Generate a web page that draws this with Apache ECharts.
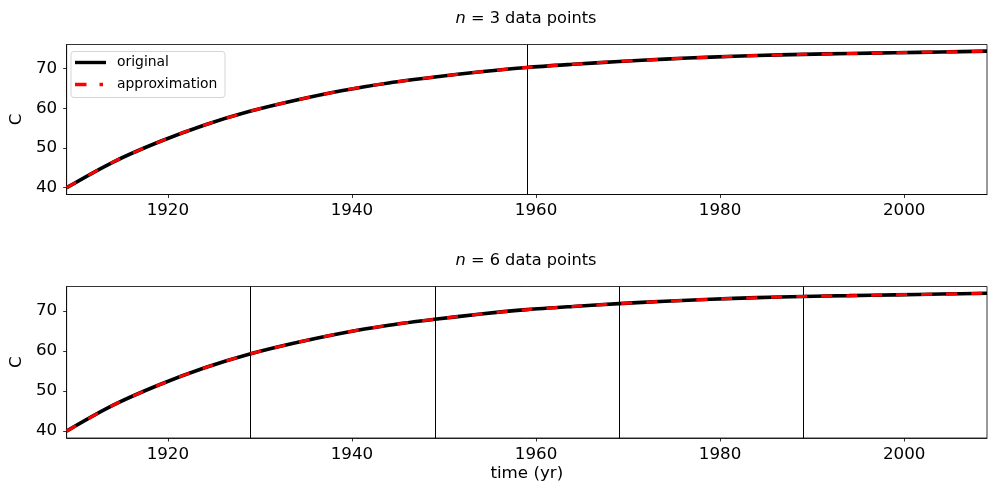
<!DOCTYPE html>
<html>
<head>
<meta charset="utf-8">
<script src="https://cdn.jsdelivr.net/npm/echarts@6/dist/echarts.min.js"></script>
<style>html,body{margin:0;padding:0;background:#fff;}#c{width:990px;height:487px;}</style>
</head>
<body>
<div id="c"></div>
<script>
// ---- data ----
var years = [1909,1914,1919,1924,1929,1934,1939,1944,1949,1954,1959,1964,1969,1974,1979,1984,1989,1994,1999,2004,2009];
var original = [40.0,46.4,51.5,55.8,59.3,62.1,64.5,66.4,67.9,69.2,70.3,71.1,71.8,72.4,72.9,73.3,73.6,73.8,74.0,74.2,74.4];
var approx3  = [40.0,46.4,51.5,55.8,59.3,62.1,64.5,66.4,67.9,69.2,70.3,71.1,71.8,72.4,72.9,73.3,73.6,73.8,74.0,74.2,74.4];
var approx6  = [40.0,46.4,51.5,55.8,59.3,62.1,64.5,66.4,67.9,69.2,70.3,71.1,71.8,72.4,72.9,73.3,73.6,73.8,74.0,74.2,74.4];
var nodes3 = [1959];
var nodes6 = [1929,1949,1969,1989];
var xTicks = [1920,1940,1960,1980,2000];
var yTicks = [40,50,60,70];
var titles = ['3','6'];
var seriesNames = ['original','approximation'];

function pairs(xs, ys){ return xs.map(function(x,i){return [x, ys[i]];}); }

var FONT = 'DejaVu Sans';
var chart = echarts.init(document.getElementById('c'), null, {renderer:'canvas'});

function xAxisCfg(idx, withName){
  var a = {
    type:'value', gridIndex:idx, min:1909, max:2009,
    axisLine:{show:true, onZero:false, lineStyle:{color:'#000', width:0.8}},
    axisTick:{show:true, length:3.5, lineStyle:{color:'#000', width:0.8}, customValues:xTicks},
    axisLabel:{color:'#000', fontSize:16.7, fontFamily:FONT, margin:8, customValues:xTicks,
      formatter:function(v){return String(v);}},
    splitLine:{show:false}
  };
  if (withName){
    a.name = 'time (yr)'; a.nameLocation = 'middle'; a.nameGap = 27;
    a.nameTextStyle = {color:'#000', fontSize:16.7, fontFamily:FONT};
  }
  return a;
}
function yAxisCfg(idx){
  return {
    type:'value', gridIndex:idx, min:38.28, max:76.08,
    name:'C', nameLocation:'middle', nameGap:34, nameRotate:90,
    nameTextStyle:{color:'#000', fontSize:16.7, fontFamily:FONT},
    axisLine:{show:true, lineStyle:{color:'#000', width:0.8}},
    axisTick:{show:true, length:3.5, lineStyle:{color:'#000', width:0.8}, customValues:yTicks},
    axisLabel:{color:'#000', fontSize:16.7, fontFamily:FONT, margin:9.5, customValues:yTicks,
      formatter:function(v){return String(v);}},
    splitLine:{show:false}
  };
}
function origSeries(idx, nodes){
  return {
    name:seriesNames[0], type:'line', xAxisIndex:idx, yAxisIndex:idx,
    data:pairs(years, original), smooth:0.3, showSymbol:false, symbol:'none',
    lineStyle:{color:'#000', width:3.6}, z:3,
    markLine:{silent:true, symbol:['none','none'], label:{show:false},
      lineStyle:{color:'#000', width:1, type:'solid'},
      data: nodes.map(function(v){return {xAxis:v};}), z:2}
  };
}
function approxSeries(idx, vals){
  return {
    name:seriesNames[1], type:'line', xAxisIndex:idx, yAxisIndex:idx,
    data:pairs(years, vals), smooth:0.3, showSymbol:false, symbol:'none',
    lineStyle:{color:'#ff0000', width:3, type:[11,14]}, z:4
  };
}
function titleCfg(n, top){
  return {text:'{i|n} = ' + n + ' data points', left:521, top:top, textAlign:'center',
    textStyle:{fontSize:16.2, fontWeight:'normal', color:'#000', fontFamily:FONT,
      rich:{i:{fontStyle:'italic', fontSize:16.2, fontFamily:FONT, color:'#000'}}}};
}

var option = {
  animation:false,
  backgroundColor:'#fff',
  title:[titleCfg(titles[0], 6), titleCfg(titles[1], 248)],
  grid:[
    {left:63, top:44.5, width:924, height:150, show:true, borderColor:'#000', borderWidth:0.8, backgroundColor:'transparent'},
    {left:63, top:286.5, width:924, height:151.5, show:true, borderColor:'#000', borderWidth:0.8, backgroundColor:'transparent'}
  ],
  xAxis:[xAxisCfg(0,false), xAxisCfg(1,true)],
  yAxis:[yAxisCfg(0), yAxisCfg(1)],
  series:[
    origSeries(0, nodes3), approxSeries(0, approx3),
    origSeries(1, nodes6), approxSeries(1, approx6)
  ],
  graphic:[
    {type:'rect', z:100, shape:{x:71, y:51.5, width:154, height:46, r:3},
     style:{fill:'rgba(255,255,255,0.8)', stroke:'#d5d5d5', lineWidth:1}},
    {type:'line', z:101, shape:{x1:75, y1:62.5, x2:106, y2:62.5}, style:{stroke:'#000', lineWidth:3.4}},
    {type:'line', z:101, shape:{x1:75, y1:84.5, x2:106, y2:84.5}, style:{stroke:'#ff0000', lineWidth:3.4, lineDash:[11.5,13,3.5,100]}},
    {type:'text', z:101, x:117, y:62.5, style:{text:seriesNames[0], fontSize:13.9, fontFamily:FONT, fill:'#000', verticalAlign:'middle'}},
    {type:'text', z:101, x:117, y:84.5, style:{text:seriesNames[1], fontSize:13.9, fontFamily:FONT, fill:'#000', verticalAlign:'middle'}}
  ]
};
chart.setOption(option);
</script>
</body>
</html>
